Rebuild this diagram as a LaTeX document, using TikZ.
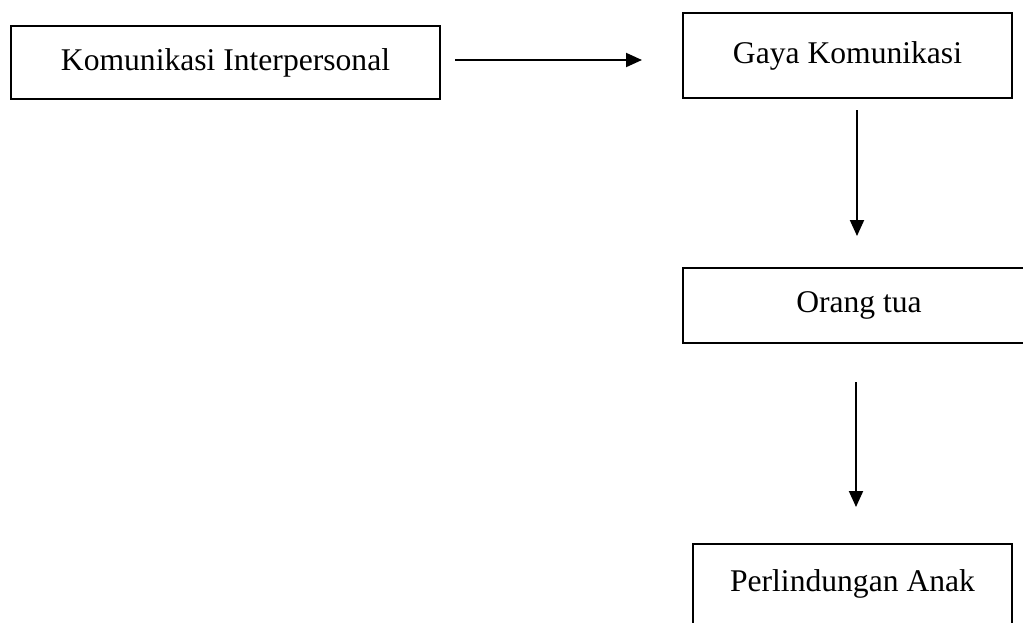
\documentclass[tikz,border=0pt]{standalone}
\usepackage{fontspec}
\setmainfont{Liberation Serif}
\usepackage{tikz}
\usetikzlibrary{arrows.meta,calc}

\begin{document}
\begin{tikzpicture}[x=0.5pt,y=-0.5pt,line width=1pt,
  kotak/.style={draw,outer sep=0pt,inner sep=0pt,font=\fontsize{15.8}{19}\selectfont},
  panah/.style={-{Triangle[length=8pt,width=7pt]}}]
\useasboundingbox (0,0) rectangle (1023,622);
\node[kotak,minimum width=214.5pt,minimum height=36.5pt] (kom) at (225.5,62.5) {Komunikasi Interpersonal};
\node[kotak,minimum width=164.5pt,minimum height=42.5pt] (gaya) at (847.5,55.5) {Gaya Komunikasi};
\node[kotak,minimum width=176pt,minimum height=37.5pt] (ortu) at (859,305.5) {Orang tua};
\node[kotak,minimum width=159.5pt,minimum height=40pt] (anak) at (852.5,584) {Perlindungan Anak};
\draw[panah] ($(kom.east)+(15,-2.5)$) -- ($(gaya.west)+(-41,4.5)$);
\draw[panah] ($(gaya.south)+(9.5,12)$) -- ($(ortu.north)+(-2,-32)$);
\draw[panah] ($(ortu.south)+(-3,39)$) -- ($(anak.north)+(3.5,-37)$);
\end{tikzpicture}
\end{document}
